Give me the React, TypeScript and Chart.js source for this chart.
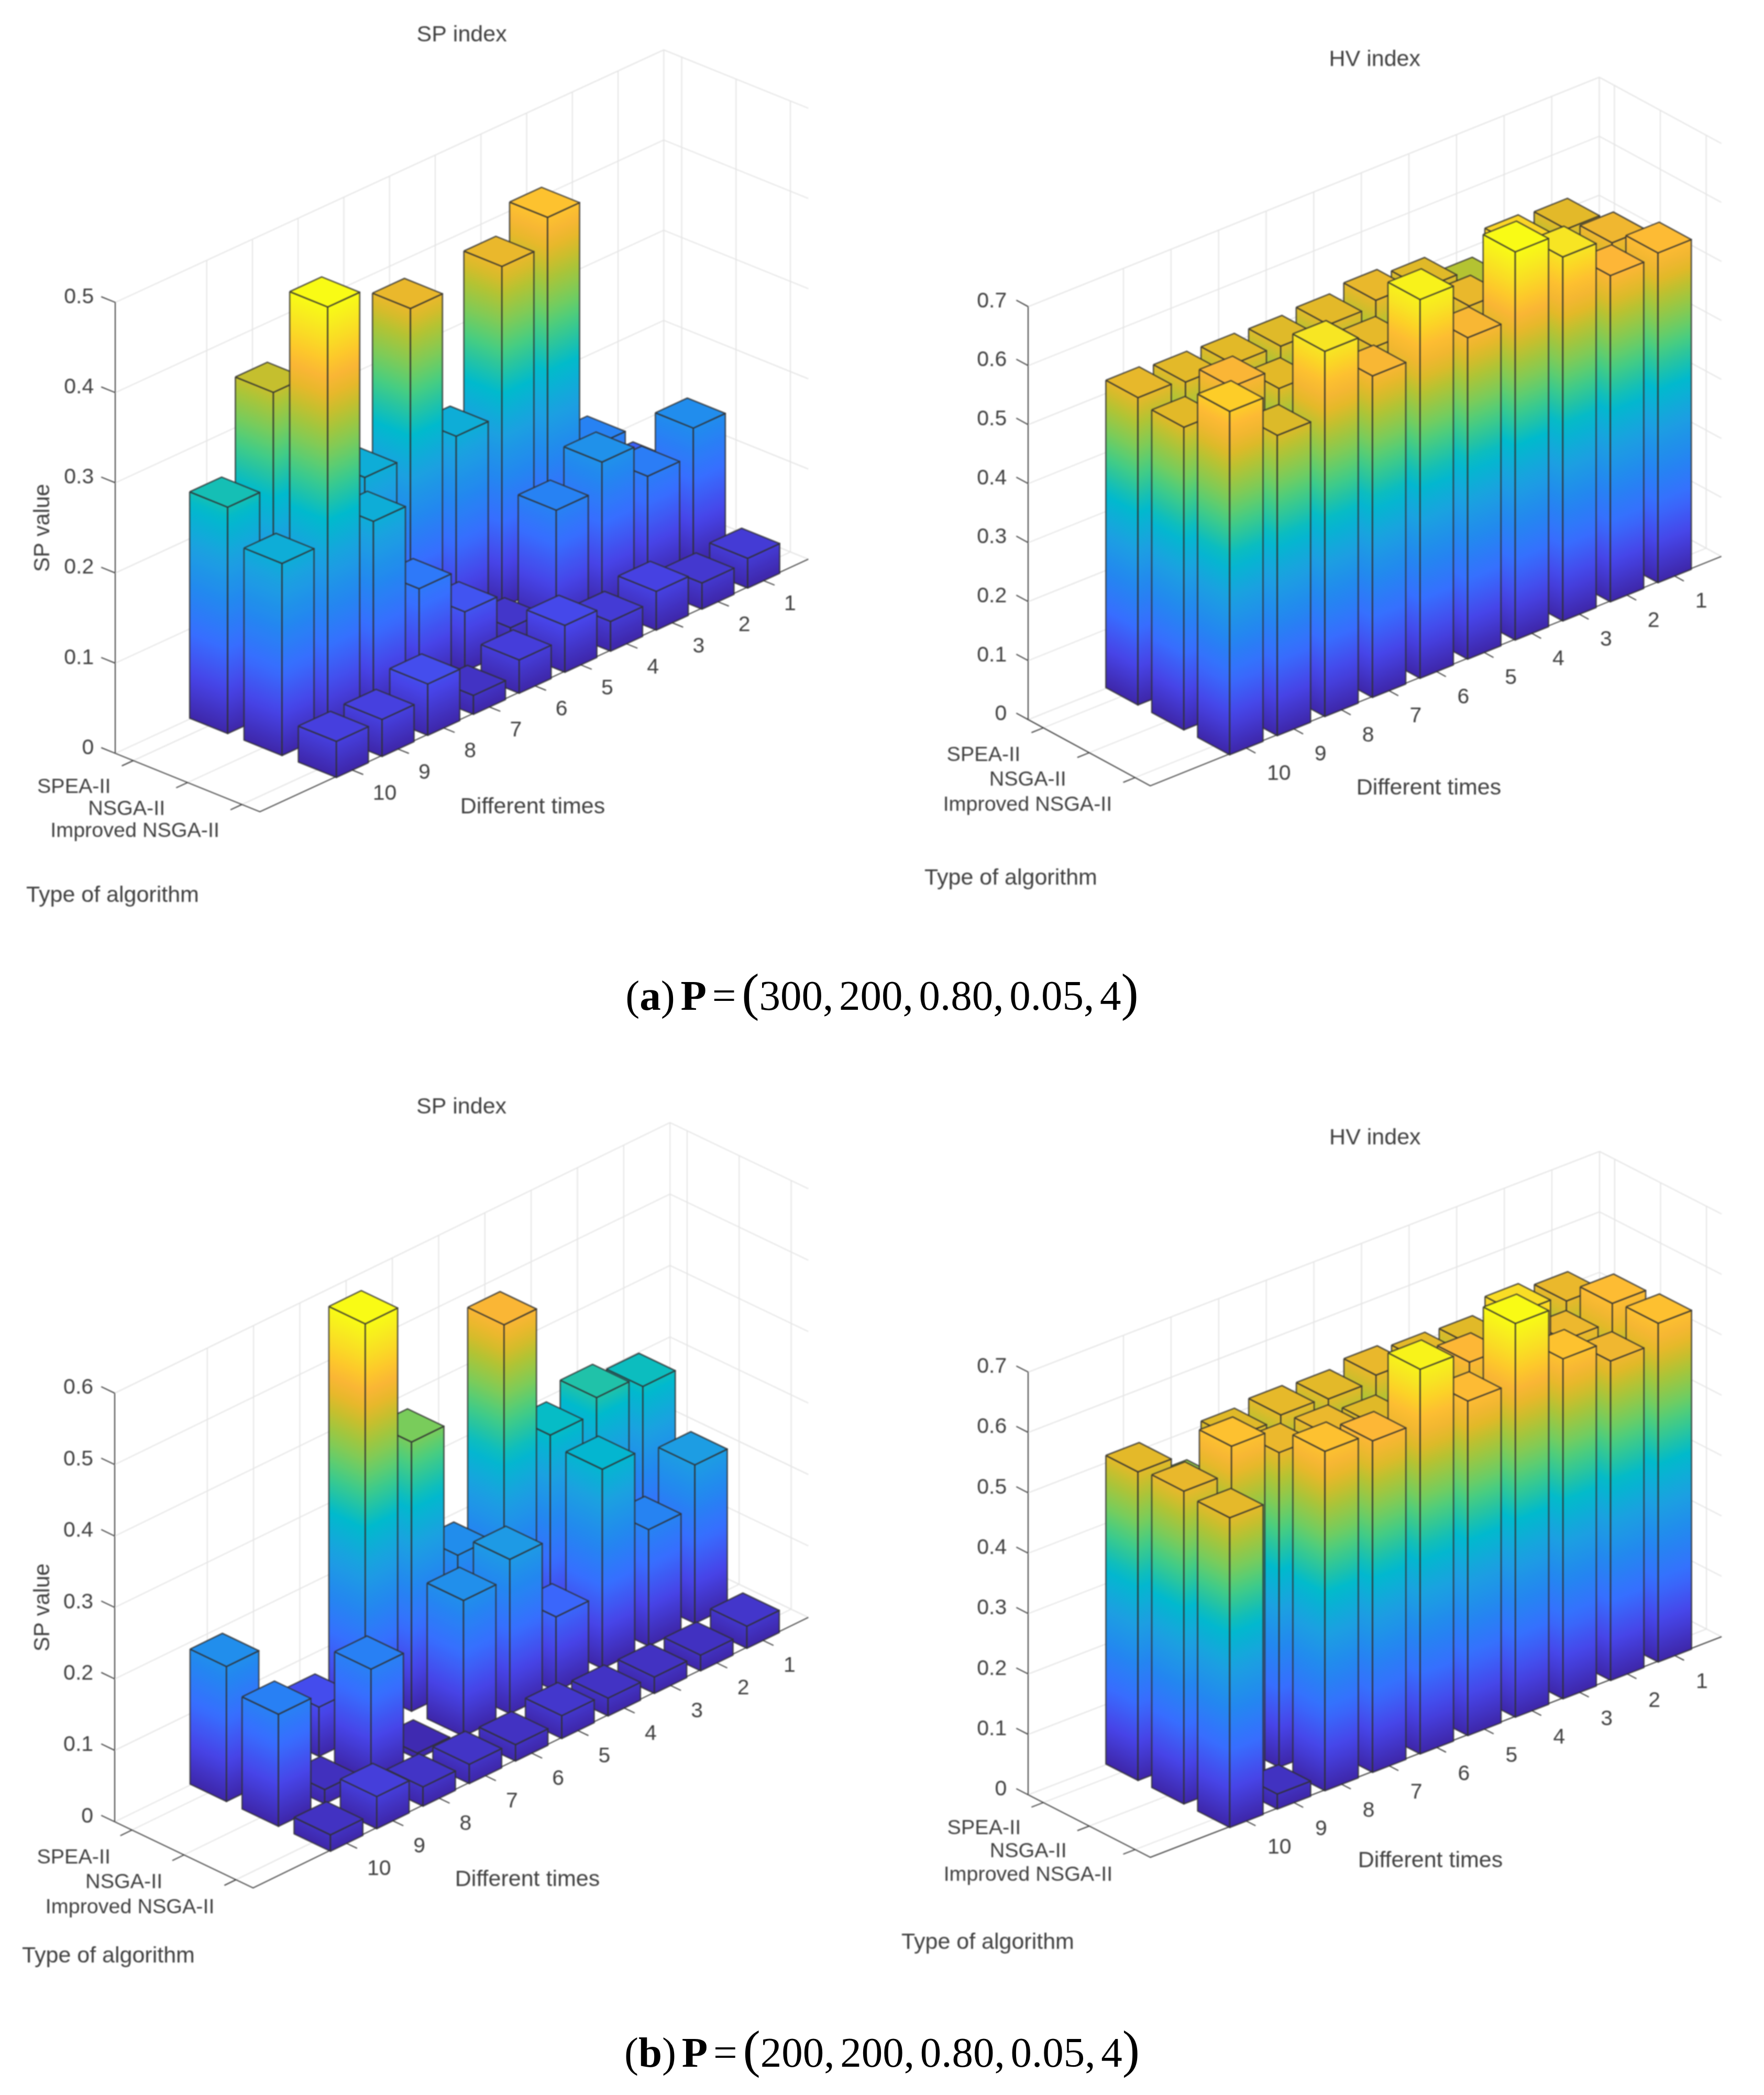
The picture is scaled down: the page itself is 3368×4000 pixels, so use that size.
import React, { useEffect, useRef } from "react";
import { Chart, registerables } from "chart.js";

Chart.register(...registerables);

// ---------- values ----------
const timeTicks = [1, 2, 3, 4, 5, 6, 7, 8, 9, 10];
const algorithms = ["SPEA-II", "NSGA-II", "Improved NSGA-II"];

const spA_spea = [0.08, 0.132, 0.409, 0.378, 0.213, 0.378, 0.214, 0.12, 0.355, 0.251];
const spA_nsga = [0.153, 0.123, 0.162, 0.132, 0.025, 0.066, 0.115, 0.213, 0.474, 0.213];
const spA_improved = [0.033, 0.029, 0.043, 0.033, 0.052, 0.037, 0.021, 0.057, 0.041, 0.04];

const hvA_spea = [0.515, 0.5, 0.48, 0.512, 0.524, 0.515, 0.511, 0.513, 0.515, 0.521];
const hvA_nsga = [0.534, 0.52, 0.594, 0.524, 0.52, 0.519, 0.5, 0.514, 0.549, 0.513];
const hvA_improved = [0.559, 0.553, 0.617, 0.658, 0.545, 0.642, 0.545, 0.619, 0.509, 0.582];

const spB_spea = [0.297, 0.313, 0.292, 0.478, 0.187, 0.377, 0.574, 0.069, 0.05, 0.189];
const spB_nsga = [0.222, 0.163, 0.279, 0.104, 0.216, 0.19, 0.008, 0.157, 0.02, 0.157];
const spB_improved = [0.031, 0.022, 0.023, 0.025, 0.032, 0.023, 0.027, 0.027, 0.045, 0.023];

const hvB_spea = [0.52, 0.5, 0.508, 0.511, 0.519, 0.51, 0.514, 0.507, 0.452, 0.511];
const hvB_nsga = [0.555, 0.525, 0.6, 0.549, 0.5, 0.507, 0.521, 0.521, 0.562, 0.518];
const hvB_improved = [0.561, 0.529, 0.563, 0.652, 0.554, 0.637, 0.549, 0.562, 0.025, 0.513];

// ---------- parula colour map ----------
const parulaStops: [number, number, number, number][] = [
  [0, 62, 38, 168],
  [0.1, 71, 68, 232],
  [0.2, 55, 110, 255],
  [0.3, 35, 135, 240],
  [0.4, 28, 160, 225],
  [0.5, 0, 186, 205],
  [0.55, 35, 195, 165],
  [0.6, 70, 205, 130],
  [0.65, 115, 205, 95],
  [0.73, 180, 195, 50],
  [0.78, 226, 185, 40],
  [0.84, 253, 182, 55],
  [0.885, 253, 205, 40],
  [0.94, 247, 230, 35],
  [1, 249, 251, 21],
];
function parula(f: number) {
  const c = Math.max(0, Math.min(1, f));
  for (let i = 1; i < parulaStops.length; i++) {
    const a = parulaStops[i - 1];
    const b = parulaStops[i];
    if (c <= b[0]) {
      const k = (c - a[0]) / (b[0] - a[0]);
      const m = (j: number) => Math.round(a[j] + (b[j] - a[j]) * k);
      return `rgb(${m(1)},${m(2)},${m(3)})`;
    }
  }
  return "rgb(249,251,21)";
}

// ---------- 3-D view of each panel ----------
const T_MAX = 12;
const A_MIN = 0.67;
const A_MAX = 3.33;
const BAR = 0.35;
const FONT = "'Liberation Sans', Arial, sans-serif";
const TEXT = "#404040";
const GRID = "#e4e4e4";
const EDGE = "rgba(48,48,48,0.82)";

const panels = [
  {
    left: 0, top: 0, series: [spA_spea, spA_nsga, spA_improved], max: 0.5, clim: 0.474,
    axisX: 220.2, axisTop: 577.4, axis0: 1438.4, rightX: 1543,
    uX: 87.26, uY: 40.18, vX: 103.75, vY: 41.9,
    title: "SP index", titleY: 67, zName: "SP value", zNameX: 82,
    timeOff: [41, 46], algoOff: [-43, 51], timesAt: [1017, 1541], typeAt: [215, 1710],
  },
  {
    left: 1684, top: 0, series: [hvA_spea, hvA_nsga, hvA_improved], max: 0.7, clim: 0.658,
    axisX: 1963.2, axisTop: 585.5, axis0: 1374, rightX: 3286.4,
    uX: 90.86, uY: 36.5, vX: 87.6, vY: 47.5,
    title: "HV index", titleY: 114, zName: "HV value", zNameX: 144,
    timeOff: [41, 50], algoOff: [-44, 52], timesAt: [2728, 1505], typeAt: [1930, 1677],
  },
  {
    left: 0, top: 2040, series: [spB_spea, spB_nsga, spB_improved], max: 0.6, clim: 0.574,
    axisX: 219.1, axisTop: 2660, axis0: 3478.4, rightX: 1543,
    uX: 88.34, uY: 43.05, vX: 99.3, vY: 47.47,
    title: "SP index", titleY: 74, zName: "SP value", zNameX: 82,
    timeOff: [41, 50], algoOff: [-41, 53], timesAt: [1007, 3589], typeAt: [207, 3735],
  },
  {
    left: 1684, top: 2040, series: [hvB_spea, hvB_nsga, hvB_improved], max: 0.7, clim: 0.652,
    axisX: 1963.2, axisTop: 2619.7, axis0: 3426.8, rightX: 3287.5,
    uX: 90.9, uY: 35.1, vX: 87.6, vY: 44.9,
    title: "HV index", titleY: 133, zName: "HV value", zNameX: 144,
    timeOff: [42, 52], algoOff: [-43, 49], timesAt: [2731, 3553], typeAt: [1886, 3709],
  },
];

const CANVAS_W = 1684;
const CANVAS_H = 1800;

function buildChart(canvas: HTMLCanvasElement, p: (typeof panels)[number]) {
  const zPx = (p.axis0 - p.axisTop) / p.max;
  const project = (t: number, a: number, v: number) => ({
    x: (T_MAX - t) * p.uX + (a - A_MIN) * p.vX,
    y: v + ((T_MAX - t) * p.uY - (a - A_MIN) * p.vY) / zPx,
  });
  const datasets: any[] = [];
  const addLine = (pts: { x: number; y: number }[], color: string, width: number) =>
    datasets.push({
      type: "line", data: pts, borderColor: color, borderWidth: width, pointRadius: 0,
      fill: false, tension: 0, clip: false, borderJoinStyle: "round",
    });

  // walls and floor
  const zTicks: number[] = [];
  for (let i = 0; i <= Math.round(p.max * 10); i++) zTicks.push(i / 10);
  zTicks.forEach((v) =>
    addLine([project(T_MAX, A_MIN, v), project(0, A_MIN, v), project(0, A_MAX, v)], GRID, 2)
  );
  [...timeTicks, 0].forEach((t) => {
    addLine([project(t, A_MIN, 0), project(t, A_MIN, p.max)], GRID, 2);
    addLine([project(t, A_MIN, 0), project(t, A_MAX, 0)], GRID, 2);
  });
  [1, 2, 3].forEach((a) => {
    addLine([project(0, a, 0), project(0, a, p.max)], GRID, 2);
    addLine([project(T_MAX, a, 0), project(0, a, 0)], GRID, 2);
  });
  addLine([project(T_MAX, A_MIN, 0), project(T_MAX, A_MAX, 0), project(0, A_MAX, 0)], "#3c3c3c", 2);

  // tick marks
  zTicks.forEach((v) => addLine([project(T_MAX, A_MIN, v), project(T_MAX, A_MIN - 0.26, v)], "#3c3c3c", 2));
  timeTicks.forEach((t) => addLine([project(t, A_MAX, 0), project(t, A_MAX + 0.22, 0)], "#3c3c3c", 2));
  [1, 2, 3].forEach((a) => addLine([project(T_MAX, a, 0), project(T_MAX + 0.25, a, 0)], "#3c3c3c", 2));

  // bars, back to front: SPEA-II row first, time 1 first
  p.series.forEach((vals, ai) => {
    const a = ai + 1;
    vals.forEach((v, ti) => {
      const t = timeTicks[ti];
      const face = (pts: { x: number; y: number }[], kind: string) =>
        datasets.push({
          type: "line", data: [...pts, pts[0]], borderColor: EDGE, borderWidth: 2.6, pointRadius: 0,
          fill: false, tension: 0, clip: false, borderJoinStyle: "round",
          face: { kind, f: v / p.clim },
        });
      const c = (dt: number, da: number, z: number) => project(t + dt, a + da, z);
      face([c(BAR, -BAR, v), c(BAR, BAR, v), c(BAR, BAR, 0), c(BAR, -BAR, 0)], "side");
      face([c(BAR, BAR, v), c(-BAR, BAR, v), c(-BAR, BAR, 0), c(BAR, BAR, 0)], "side");
      face([c(BAR, -BAR, v), c(BAR, BAR, v), c(-BAR, BAR, v), c(-BAR, -BAR, v)], "top");
    });
  });
  // Chart.js paints the first dataset last
  datasets.forEach((d, i) => (d.order = datasets.length - i));

  const facePlugin = {
    id: "faces",
    beforeDatasetDraw(chart: any, args: any) {
      const ds = chart.data.datasets[args.index];
      if (!ds.face) return;
      const pts = args.meta.data;
      const ctx = chart.ctx;
      let fill: any = parula(ds.face.f);
      if (ds.face.kind === "side") {
        const [tA, tB, , bA] = pts;
        const ex = tB.x - tA.x;
        const ey = tB.y - tA.y;
        const len = Math.hypot(ex, ey);
        const hx = tA.x - bA.x;
        const hy = tA.y - bA.y;
        const dot = (hx * ex + hy * ey) / (len * len);
        const g = ctx.createLinearGradient(bA.x, bA.y, bA.x + hx - dot * ex, bA.y + hy - dot * ey);
        for (let i = 0; i <= 24; i++) g.addColorStop(i / 24, parula((i / 24) * ds.face.f));
        fill = g;
      }
      ctx.save();
      ctx.beginPath();
      pts.forEach((pt: any, i: number) => (i ? ctx.lineTo(pt.x, pt.y) : ctx.moveTo(pt.x, pt.y)));
      ctx.closePath();
      ctx.fillStyle = fill;
      ctx.fill();
      ctx.restore();
    },
  };

  const textPlugin = {
    id: "texts3d",
    afterDraw(chart: any) {
      const { ctx, scales } = chart;
      const at = (q: { x: number; y: number }) => ({
        x: scales.x.getPixelForValue(q.x),
        y: scales.y.getPixelForValue(q.y),
      });
      ctx.save();
      ctx.fillStyle = TEXT;
      ctx.textBaseline = "middle";
      ctx.font = `41px ${FONT}`;
      ctx.textAlign = "left";
      timeTicks.forEach((t) => {
        const q = at(project(t, A_MAX, 0));
        ctx.fillText(String(t), q.x + p.timeOff[0], q.y + p.timeOff[1]);
      });
      ctx.font = `39.5px ${FONT}`;
      ctx.textAlign = "right";
      algorithms.forEach((name, i) => {
        const q = at(project(T_MAX, i + 1, 0));
        ctx.fillText(name, q.x + p.algoOff[0], q.y + p.algoOff[1]);
      });
      ctx.font = `43px ${FONT}`;
      ctx.textAlign = "center";
      ctx.fillText("Different times", p.timesAt[0] - p.left, p.timesAt[1] - p.top);
      ctx.fillText("Type of algorithm", p.typeAt[0] - p.left, p.typeAt[1] - p.top);
      ctx.restore();
    },
  };

  const areaLeft = p.axisX - p.left;
  const areaTop = p.axisTop - p.top;
  const titleLine = 51;
  return new Chart(canvas, {
    type: "line",
    data: { datasets },
    plugins: [facePlugin, textPlugin],
    options: {
      animation: false,
      responsive: false,
      devicePixelRatio: 1,
      events: [],
      layout: {
        padding: {
          left: 0,
          top: 0,
          right: CANVAS_W - (p.rightX - p.left),
          bottom: CANVAS_H - (p.axis0 - p.top),
        },
      },
      plugins: {
        legend: { display: false },
        tooltip: { enabled: false },
        title: {
          display: true,
          text: p.title,
          fullSize: false,
          color: TEXT,
          font: { family: FONT, size: 43, weight: "normal", lineHeight: titleLine / 43 },
          padding: {
            top: p.titleY - titleLine / 2,
            bottom: areaTop - p.titleY - titleLine / 2,
          },
        },
      },
      scales: {
        x: { type: "linear", display: false, min: 0, max: p.rightX - p.axisX },
        y: {
          type: "linear",
          position: "left",
          min: 0,
          max: p.max,
          afterFit(s: any) {
            s.width = areaLeft;
            s.paddingTop = 0;
            s.paddingBottom = 0;
            s.paddingLeft = 0;
            s.paddingRight = 0;
          },
          grid: { display: false, drawTicks: false },
          border: { display: true, color: "#3c3c3c", width: 2 },
          title: {
            display: true,
            text: p.zName,
            color: TEXT,
            font: { family: FONT, size: 42, weight: "normal", lineHeight: titleLine / 42 },
            padding: { top: p.zNameX - p.left - titleLine / 2, bottom: 0 },
          },
          ticks: {
            stepSize: 0.1,
            padding: 41,
            color: TEXT,
            autoSkip: false,
            maxRotation: 0,
            font: { family: FONT, size: 41, lineHeight: 20 / 41 },
            callback: (v: any) => [String(+Number(v).toFixed(1)), ""],
          },
        },
      },
    } as any,
  } as any);
}

const canvasStyle = (left: number, top: number): React.CSSProperties => ({
  position: "absolute",
  left,
  top,
  width: CANVAS_W,
  height: CANVAS_H,
  display: "block",
  filter: "blur(0.8px)",
});

const captionStyle = (top: number): React.CSSProperties => ({
  position: "absolute",
  left: 0,
  width: 3368,
  top,
  height: 100,
  lineHeight: "100px",
  textAlign: "center",
  fontFamily: "'Liberation Serif', serif",
  fontSize: 81,
  wordSpacing: "-9.5px",
  color: "#000",
  whiteSpace: "nowrap",
});

const mathParen: React.CSSProperties = { fontSize: 100, lineHeight: 0, fontWeight: 400 };

export default function App() {
  const refs = useRef<(HTMLCanvasElement | null)[]>([]);
  useEffect(() => {
    const charts = panels.map((p, i) => buildChart(refs.current[i] as HTMLCanvasElement, p));
    return () => charts.forEach((c) => c.destroy());
  }, []);
  return (
    <div style={{ position: "absolute", left: 0, top: 0, width: 3368, height: 4000, background: "#fff" }}>
      {panels.map((p, i) => (
        <canvas
          key={i}
          width={CANVAS_W}
          height={CANVAS_H}
          style={canvasStyle(p.left, p.top)}
          ref={(el) => {
            refs.current[i] = el;
          }}
        />
      ))}
      <div style={captionStyle(1851)}>
        (<b>a</b>) <b>P</b> = <span style={mathParen}>(</span>300, 200, 0.80, 0.05, 4<span style={mathParen}>)</span>
      </div>
      <div style={captionStyle(3869)}>
        (<b>b</b>) <b>P</b> = <span style={mathParen}>(</span>200, 200, 0.80, 0.05, 4<span style={mathParen}>)</span>
      </div>
    </div>
  );
}
